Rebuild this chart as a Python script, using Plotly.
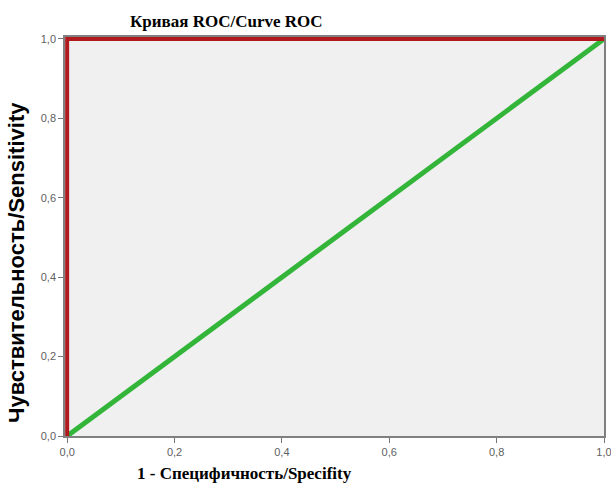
import plotly.graph_objects as go

roc_x = [0.0, 0.0, 1.0]
roc_y = [0.0, 1.0, 1.0]
ref_x = [0.0, 1.0]
ref_y = [0.0, 1.0]
tick_vals = [0.0, 0.2, 0.4, 0.6, 0.8, 1.0]

title_text = "Кривая ROC/Curve ROC"
x_title = "1 - Специфичность/Specifity"
y_title = "Чувствительность/Sensitivity"

fig = go.Figure()
fig.add_trace(go.Scatter(x=ref_x, y=ref_y, mode="lines",
                         line=dict(color="#33b53a", width=5), showlegend=False))
fig.add_trace(go.Scatter(x=roc_x, y=roc_y, mode="lines",
                         line=dict(color="#b01a1e", width=4), showlegend=False))

axis_style = dict(tickvals=tick_vals, tickformat=".1f",
                  showgrid=False, zeroline=False, ticks="outside", ticklen=5,
                  tickcolor="#777777", showline=True, linecolor="#808080", linewidth=1.5,
                  mirror=True, ticklabeloverflow="allow", automargin=False,
                  layer="below traces",
                  tickfont=dict(size=11, color="#606060"))

fig.update_layout(
    width=611, height=485,
    margin=dict(l=65, r=7, t=37, b=49, autoexpand=False),
    paper_bgcolor="white",
    plot_bgcolor="#f0f0f0",
    separators=", ",
    font=dict(family="Liberation Sans, Arial, sans-serif", color="#555555", size=11),
)
fig.update_xaxes(range=[-0.004, 1.0], **axis_style)
fig.update_yaxes(range=[0, 1.005], **axis_style)

fig.add_annotation(text=f"<b>{title_text}</b>", xref="paper", yref="paper",
                   x=0.30, y=1.04, showarrow=False, xanchor="center", yanchor="middle",
                   font=dict(family="Liberation Serif, Times New Roman, serif", size=17, color="#000000"))
fig.add_annotation(text=f"<b>{x_title}</b>", xref="paper", yref="paper",
                   x=0.333, y=-0.095, showarrow=False, xanchor="center", yanchor="middle",
                   font=dict(family="Liberation Serif, Times New Roman, serif", size=17, color="#000000"))
fig.add_annotation(text=f"<b>{y_title}</b>", xref="paper", yref="paper",
                   x=-0.09, y=0.435, showarrow=False, xanchor="center", yanchor="middle",
                   textangle=-90,
                   font=dict(family="Liberation Sans, Arial, sans-serif", size=22, color="#000000"))

fig.write_html("out.html", config={"displayModeBar": False},
               post_script="document.body.style.margin='0';document.body.style.overflow='hidden';")
